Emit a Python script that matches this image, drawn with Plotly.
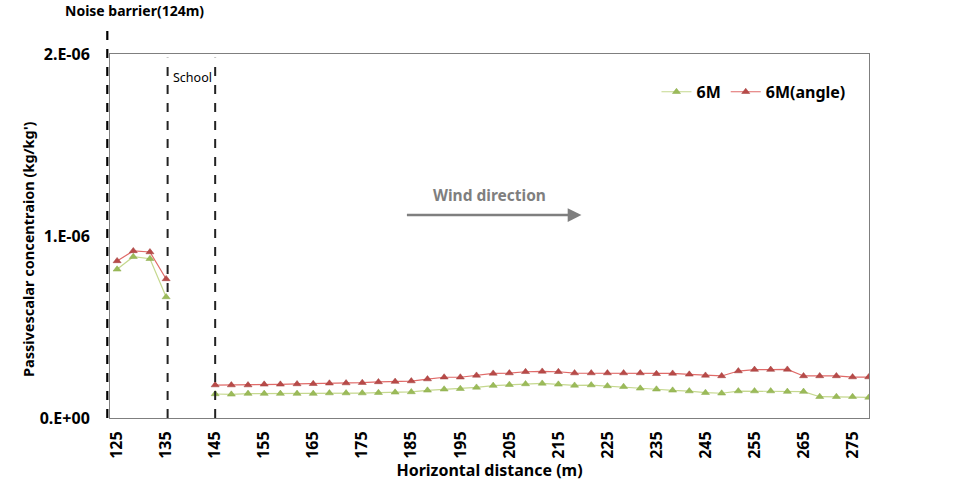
import plotly.graph_objects as go

# Horizontal distance (m) for each sample position
distance = [125, 128.3, 131.7, 135, 138.3, 141.7, 145, 148.3, 151.7, 155,
            158.3, 161.7, 165, 168.3, 171.7, 175, 178.3, 181.7, 185, 188.3,
            191.7, 195, 198.3, 201.7, 205, 208.3, 211.7, 215, 218.3, 221.7,
            225, 228.3, 231.7, 235, 238.3, 241.7, 245, 248.3, 251.7, 255,
            258.3, 261.7, 265, 268.3, 271.7, 275, 278.3]

# Passive scalar concentration, units of 1e-6 kg/kg'
m6 = [0.817, 0.886, 0.875, 0.665, None, None,
      0.132, 0.130, 0.134, 0.134, 0.134, 0.134, 0.134, 0.137, 0.137, 0.137,
      0.139, 0.141, 0.143, 0.152, 0.158, 0.161, 0.168, 0.178, 0.183, 0.187,
      0.190, 0.185, 0.179, 0.181, 0.176, 0.172, 0.163, 0.158, 0.152, 0.148,
      0.139, 0.136, 0.148, 0.148, 0.148, 0.145, 0.145, 0.117, 0.117, 0.117,
      0.113]
m6_angle = [0.863, 0.918, 0.912, 0.764, None, None,
            0.181, 0.181, 0.181, 0.185, 0.185, 0.187, 0.188, 0.191, 0.192,
            0.194, 0.198, 0.200, 0.203, 0.214, 0.224, 0.224, 0.234, 0.245,
            0.247, 0.254, 0.256, 0.254, 0.247, 0.247, 0.247, 0.247, 0.247,
            0.243, 0.245, 0.240, 0.234, 0.231, 0.258, 0.266, 0.266, 0.267,
            0.231, 0.231, 0.231, 0.225, 0.225]

x_ticks = [125, 135, 145, 155, 165, 175, 185, 195, 205, 215, 225, 235, 245, 255, 265, 275]
y_ticks = [0, 1e-6, 2e-6]
y_tick_labels = ["0.E+00", "1.E-06", "2.E-06"]

noise_barrier_x = 123.0
school_x = [135.3, 145]

scale = 1e-6
m6_v = [None if v is None else v * scale for v in m6]
m6a_v = [None if v is None else v * scale for v in m6_angle]

FONT = "Noto Sans"
x_range = [123.55, 278.35]

fig = go.Figure()
fig.add_trace(go.Scatter(
    x=distance, y=m6_v, name="<b>6M</b>", mode="lines+markers",
    line=dict(color="#C5D88E", width=1.2),
    marker=dict(symbol="triangle-up", size=7, color="#9BBB59",
                line=dict(color="#8AAA48", width=0.5)),
    connectgaps=False))
fig.add_trace(go.Scatter(
    x=distance, y=m6a_v, name="<b>6M(angle)</b>", mode="lines+markers",
    line=dict(color="#E06A68", width=1.2),
    marker=dict(symbol="triangle-up", size=7, color="#B84A48",
                line=dict(color="#A03C3A", width=0.5)),
    connectgaps=False))

shapes = []
# noise barrier line (just left of plot area)
nb_paper = (noise_barrier_x - x_range[0]) / (x_range[1] - x_range[0])
shapes.append(dict(type="line", xref="paper", yref="paper",
                   x0=nb_paper, x1=nb_paper, y0=0, y1=1.073,
                   line=dict(color="black", width=2.2, dash="dash")))
for sx in school_x:
    shapes.append(dict(type="line", xref="x", yref="paper",
                       x0=sx, x1=sx, y0=0, y1=0.99,
                       line=dict(color="#222222", width=2, dash="dash")))

annotations = [
    dict(text="<b>Noise barrier(124m)</b>", xref="paper", yref="paper",
         x=-0.062, y=1.088, xanchor="left", yanchor="bottom", showarrow=False,
         font=dict(family=FONT, size=14, color="black")),
    dict(text="School", xref="x", yref="paper", x=135.9, y=0.935,
         xanchor="left", yanchor="middle", showarrow=False,
         font=dict(family=FONT, size=12.5, color="black")),
    dict(text="<b>Wind direction</b>", xref="x", yref="paper", x=201, y=0.612,
         xanchor="center", yanchor="middle", showarrow=False,
         font=dict(family=FONT, size=15.5, color="#7F7F7F")),
    dict(x=219.7, y=1.115e-6, ax=183.8, ay=1.115e-6, xref="x", yref="y",
         axref="x", ayref="y", text="", showarrow=True,
         arrowhead=2, arrowsize=1.1, arrowwidth=2.5, arrowcolor="#7F7F7F"),
    dict(text="<b>Passivescalar concentraion (kg/kg')</b>", xref="paper",
         yref="paper", x=-0.109, y=0.465, textangle=-90, showarrow=False,
         xanchor="center", yanchor="middle",
         font=dict(family=FONT, size=14.5, color="black")),
]

fig.update_layout(
    width=960, height=492,
    margin=dict(l=110, r=91, t=54, b=74),
    paper_bgcolor="white", plot_bgcolor="white",
    showlegend=True,
    legend=dict(orientation="h", x=0.72, y=0.896, xanchor="left", yanchor="middle",
                font=dict(family=FONT, size=16, color="black"),
                bgcolor="rgba(0,0,0,0)", itemwidth=30, tracegroupgap=0),
    shapes=shapes, annotations=annotations,
    font=dict(family=FONT),
)
fig.update_xaxes(
    range=x_range, tickvals=x_ticks, ticktext=[f"<b>{t}</b>" for t in x_ticks],
    tickangle=-90, tickfont=dict(family=FONT, size=16, color="black"),
    showgrid=False, zeroline=False, showline=True, linecolor="#7F7F7F",
    linewidth=1, mirror=True, ticks="", ticklen=0, ticklabelstandoff=6,
    title=dict(text="<b>Horizontal distance (m)</b>", standoff=0,
               font=dict(family=FONT, size=16, color="black")))
fig.update_yaxes(
    range=[0, 2e-6], tickvals=y_ticks,
    ticktext=[f"<b>{t}</b>" for t in y_tick_labels],
    tickfont=dict(family=FONT, size=16, color="black"),
    showgrid=False, zeroline=False, showline=True, linecolor="#7F7F7F",
    linewidth=1, mirror=True, ticks="", ticklabelstandoff=16)

fig.write_html("out.html")
